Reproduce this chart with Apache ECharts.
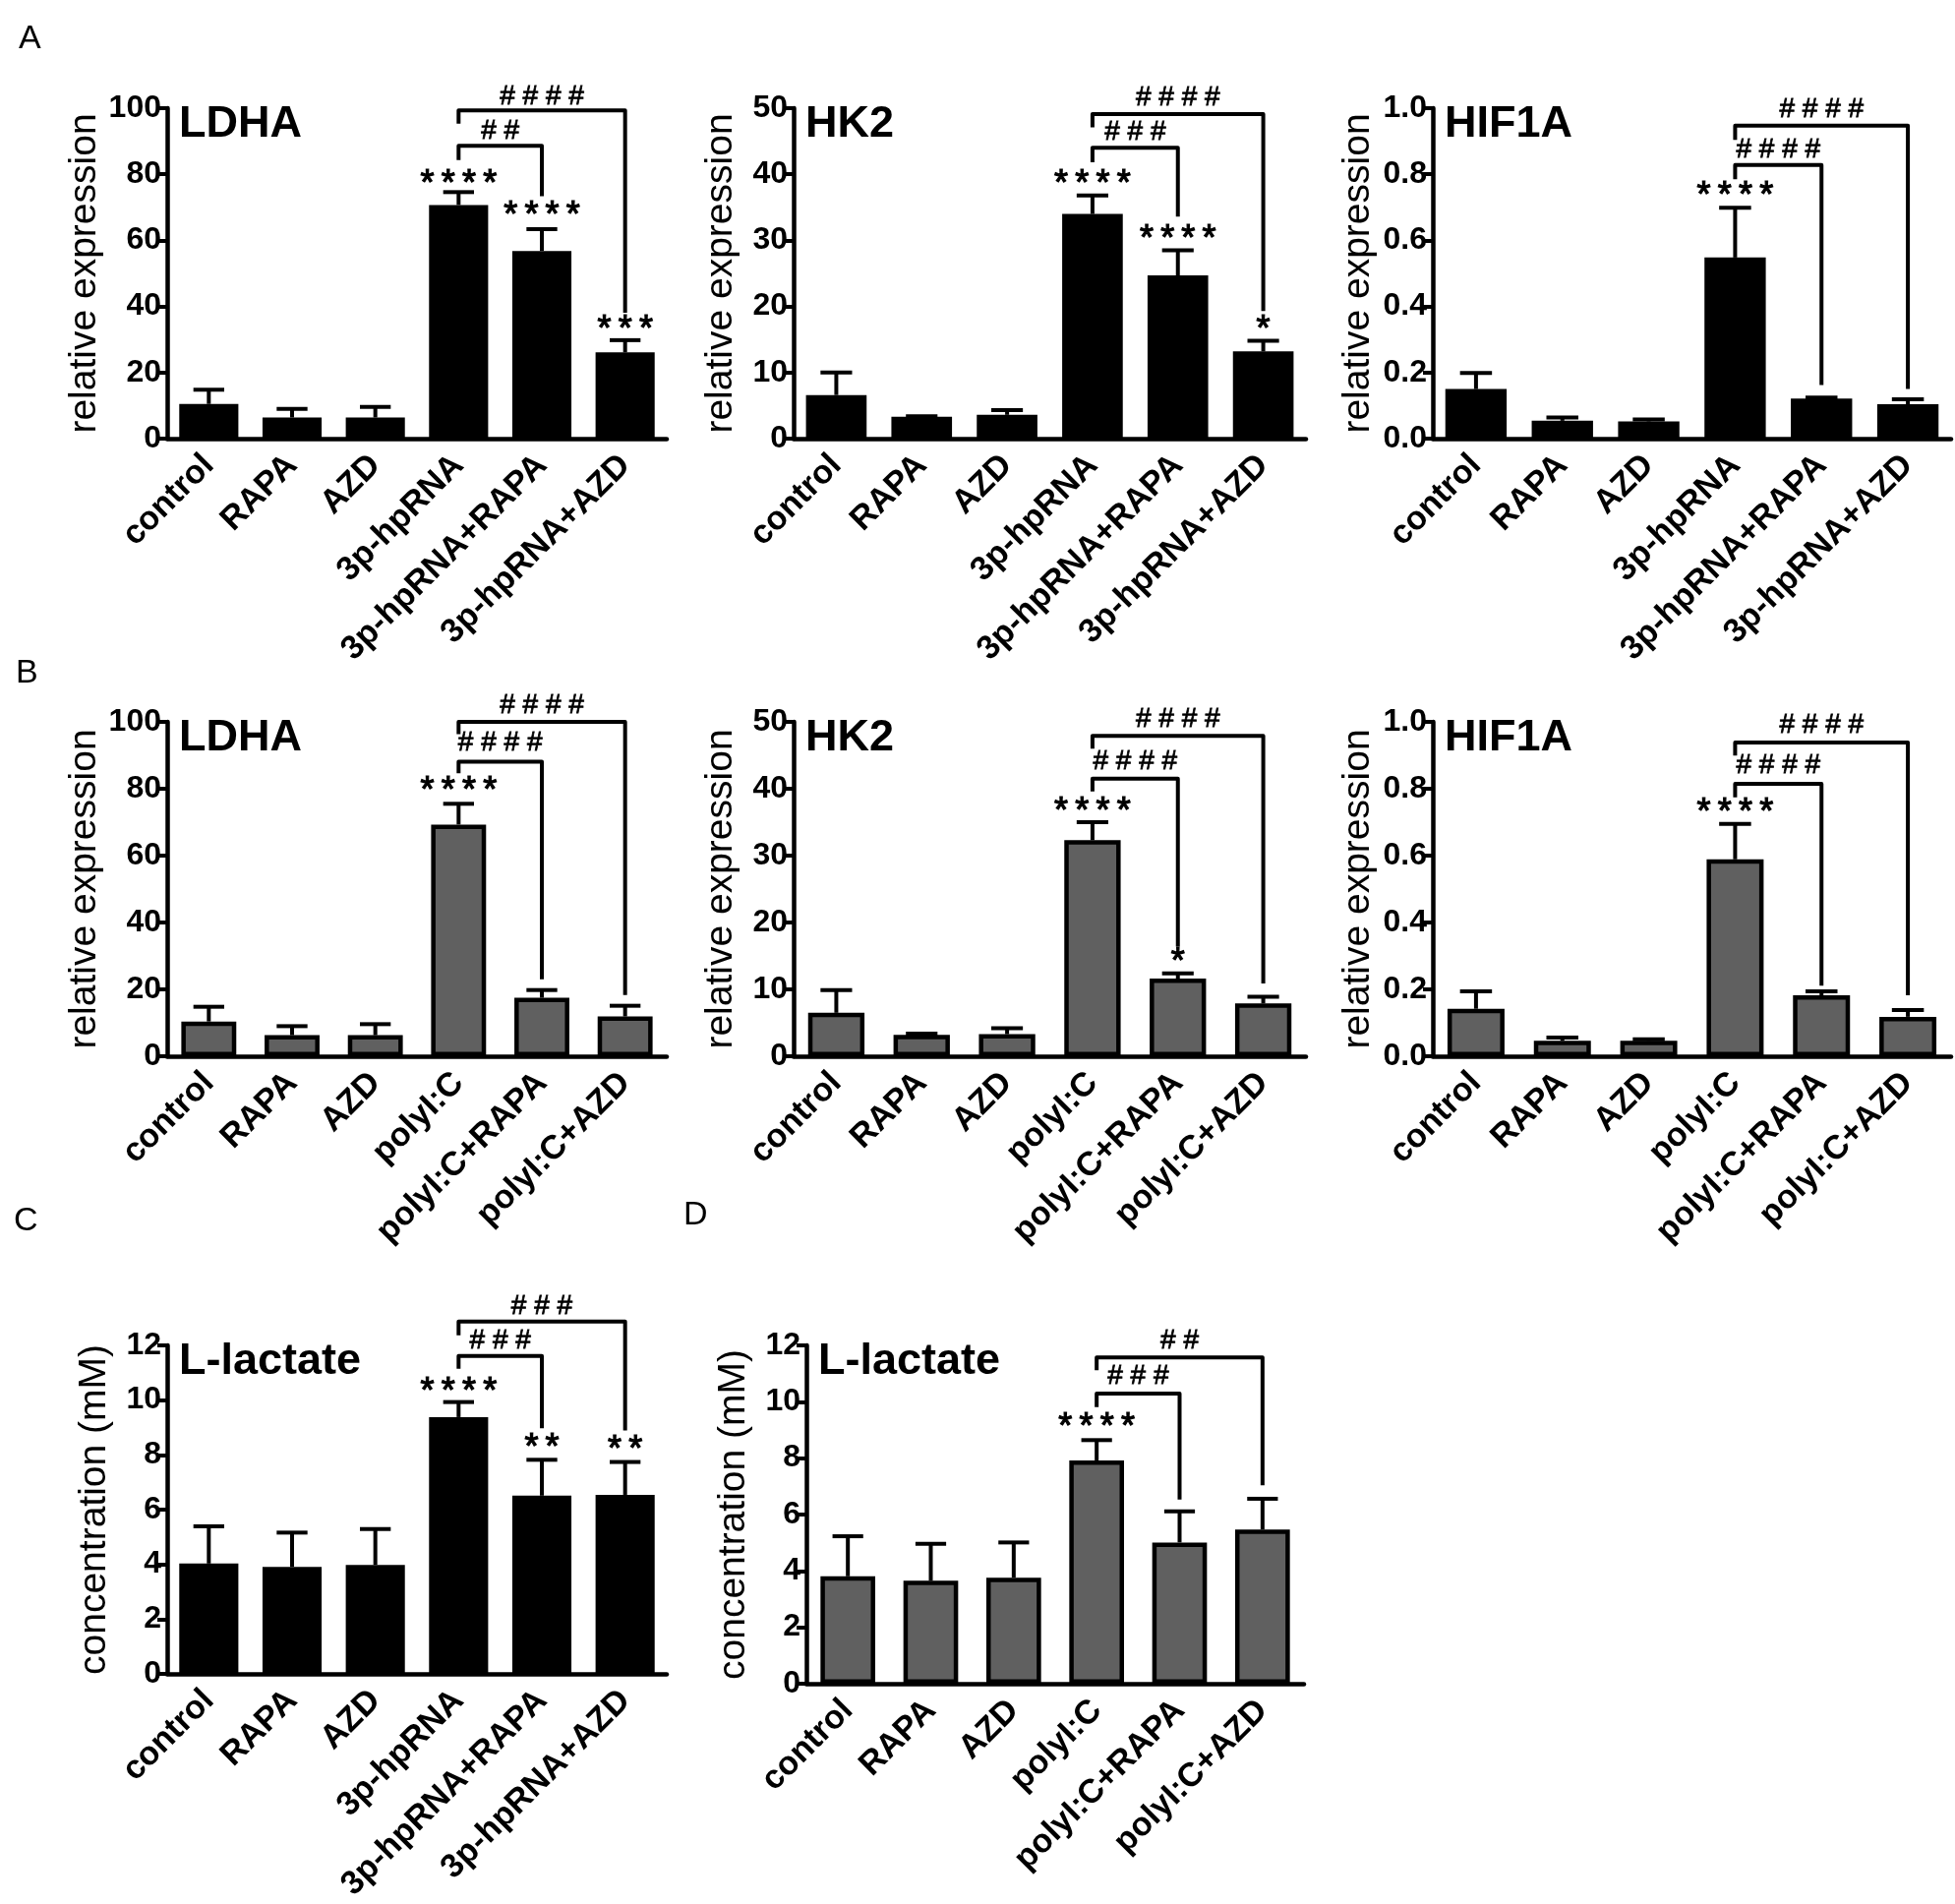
<!DOCTYPE html>
<html><head><meta charset="utf-8">
<script src="https://cdn.jsdelivr.net/npm/echarts@6/dist/echarts.min.js"></script>
<style>html,body{margin:0;padding:0;background:#fff}#c{width:1988px;height:1936px}</style>
</head><body><div id="c"></div>
<script>
// ---------- categories ----------
const catsHp = ['control','RAPA','AZD','3p-hpRNA','3p-hpRNA+RAPA','3p-hpRNA+AZD'];
const catsPoly = ['control','RAPA','AZD','polyI:C','polyI:C+RAPA','polyI:C+AZD'];

// ---------- tick labels ----------
const ticksExpr = [0,20,40,60,80,100];
const ticksHK2 = [0,10,20,30,40,50];
const ticksHIF = [0,0.2,0.4,0.6,0.8,1.0];
const ticksLac = [0,2,4,6,8,10,12];

// ---------- A: 3p-hpRNA ----------
const ldhaA_mean = [10.5, 6.4, 6.4, 70.7, 56.8, 26.1];
const ldhaA_err  = [14.8, 9.0, 9.6, 74.6, 63.4, 29.8];
const ldhaA_sig  = ['', '', '', '****', '****', '***'];
const ldhaA_sigY = [null, null, null, 78.1, 68.3, 33.8];
// bracket: [from, to, barY, leftEndY, rightEndY, labelY]
const ldhaA_br = [[3,5,99.3,95.3,38.1,102.7],[3,4,88.6,84.3,73.4,92.3]];
const ldhaA_brText = ['####','##'];

const hk2A_mean = [6.6, 3.3, 3.6, 34.0, 24.7, 13.2];
const hk2A_err  = [10.0, 3.4, 4.3, 36.8, 28.5, 14.8];
const hk2A_sig  = ['', '', '', '****', '****', '*'];
const hk2A_sigY = [null, null, null, 39.0, 30.7, 17.0];
const hk2A_br = [[3,5,49.1,47.1,19.3,51.2],[3,4,44.0,41.8,33.6,45.9]];
const hk2A_brText = ['####','###'];

const hifA_mean = [0.150, 0.054, 0.052, 0.548, 0.121, 0.104];
const hifA_err  = [0.199, 0.064, 0.058, 0.699, 0.124, 0.119];
const hifA_sig  = ['', '', '', '****', '', ''];
const hifA_sigY = [null, null, null, 0.745, null, null];
const hifA_br = [[3,5,0.947,0.904,0.150,0.988],[3,4,0.828,0.785,0.162,0.865]];
const hifA_brText = ['####','####'];

// ---------- B: polyI:C ----------
const ldhaB_mean = [10.4, 6.3, 6.3, 69.3, 17.5, 11.9];
const ldhaB_err  = [14.8, 9.0, 9.6, 75.5, 19.8, 15.1];
const ldhaB_sig  = ['', '', '', '****', '', ''];
const ldhaB_sigY = [null, null, null, 80.2, null, null];
const ldhaB_br = [[3,5,100.0,96.3,18.3,104.1],[3,4,88.1,84.6,23.0,93.0]];
const ldhaB_brText = ['####','####'];

const hk2B_mean = [6.5, 3.2, 3.3, 32.3, 11.6, 7.9];
const hk2B_err  = [9.9, 3.4, 4.2, 35.0, 12.4, 8.9];
const hk2B_sig  = ['', '', '', '****', '*', ''];
const hk2B_sigY = [null, null, null, 37.1, 14.5, null];
const hk2B_br = [[3,5,47.9,46.0,10.9,50.0],[3,4,41.5,39.6,16.4,43.6]];
const hk2B_brText = ['####','####'];

const hifB_mean = [0.142, 0.046, 0.046, 0.589, 0.182, 0.118];
const hifB_err  = [0.194, 0.056, 0.051, 0.695, 0.194, 0.138];
const hifB_sig  = ['', '', '', '****', '', ''];
const hifB_sigY = [null, null, null, 0.737, null, null];
const hifB_br = [[3,5,0.938,0.899,0.182,0.982],[3,4,0.815,0.774,0.211,0.860]];
const hifB_brText = ['####','####'];

// ---------- C / D: L-lactate ----------
const lacC_mean = [4.03, 3.91, 3.98, 9.38, 6.51, 6.54];
const lacC_err  = [5.39, 5.16, 5.29, 9.93, 7.82, 7.74];
const lacC_sig  = ['', '', '', '****', '**', '**'];
const lacC_sigY = [null, null, null, 10.42, 8.38, 8.28];
const lacC_br = [[3,5,12.87,12.37,8.89,13.33],[3,4,11.61,11.15,8.97,12.06]];
const lacC_brText = ['###','###'];

const lacD_mean = [3.81, 3.65, 3.76, 7.92, 5.01, 5.47];
const lacD_err  = [5.23, 4.96, 5.01, 8.64, 6.11, 6.56];
const lacD_sig  = ['', '', '', '****', '', ''];
const lacD_sigY = [null, null, null, 9.2, null, null];
const lacD_br = [[3,5,11.57,11.12,7.04,12.05],[3,4,10.29,9.81,6.53,10.8]];
const lacD_brText = ['##','###'];

// ---------- layout / styling ----------
const FONT = 'Arial, "Liberation Sans", sans-serif';
const BLACK = '#000', GREY = '#606060';
const yNameExpr = 'relative expression', yNameLac = 'concentration (mM)';

const panels = [
  {g:{left:170,top:110,width:508,height:336}, cats:catsHp, mean:ldhaA_mean, err:ldhaA_err, sig:ldhaA_sig, sigY:ldhaA_sigY, br:ldhaA_br, brT:ldhaA_brText, ticks:ticksExpr, dec:0, fill:BLACK, bw:0, title:'LDHA', name:yNameExpr, gap:64},
  {g:{left:807,top:110,width:521,height:336}, cats:catsHp, mean:hk2A_mean, err:hk2A_err, sig:hk2A_sig, sigY:hk2A_sigY, br:hk2A_br, brT:hk2A_brText, ticks:ticksHK2, dec:0, fill:BLACK, bw:0, title:'HK2', name:yNameExpr, gap:54},
  {g:{left:1457,top:110,width:527,height:336}, cats:catsHp, mean:hifA_mean, err:hifA_err, sig:hifA_sig, sigY:hifA_sigY, br:hifA_br, brT:hifA_brText, ticks:ticksHIF, dec:1, fill:BLACK, bw:0, title:'HIF1A', name:yNameExpr, gap:56},
  {g:{left:170,top:734,width:508,height:340}, cats:catsPoly, mean:ldhaB_mean, err:ldhaB_err, sig:ldhaB_sig, sigY:ldhaB_sigY, br:ldhaB_br, brT:ldhaB_brText, ticks:ticksExpr, dec:0, fill:GREY, bw:4.5, title:'LDHA', name:yNameExpr, gap:64},
  {g:{left:807,top:734,width:521,height:340}, cats:catsPoly, mean:hk2B_mean, err:hk2B_err, sig:hk2B_sig, sigY:hk2B_sigY, br:hk2B_br, brT:hk2B_brText, ticks:ticksHK2, dec:0, fill:GREY, bw:4.5, title:'HK2', name:yNameExpr, gap:54},
  {g:{left:1457,top:734,width:527,height:340}, cats:catsPoly, mean:hifB_mean, err:hifB_err, sig:hifB_sig, sigY:hifB_sigY, br:hifB_br, brT:hifB_brText, ticks:ticksHIF, dec:1, fill:GREY, bw:4.5, title:'HIF1A', name:yNameExpr, gap:56},
  {g:{left:170,top:1368,width:508,height:344}, cats:catsHp, mean:lacC_mean, err:lacC_err, sig:lacC_sig, sigY:lacC_sigY, br:lacC_br, brT:lacC_brText, ticks:ticksLac, dec:0, fill:BLACK, bw:0, title:'L-lactate', name:yNameLac, gap:54},
  {g:{left:820,top:1368,width:506,height:344}, cats:catsPoly, mean:lacD_mean, err:lacD_err, sig:lacD_sig, sigY:lacD_sigY, br:lacD_br, brT:lacD_brText, ticks:ticksLac, dec:0, fill:GREY, bw:4.5, title:'L-lactate', name:yNameLac, gap:54}
];

const spaced = s => s.split('').join('\u2009');
const spacedH = s => s.split('').join(' ');
const grid = [], xAxis = [], yAxis = [], series = [], graphic = [];

panels.forEach((p, i) => {
  grid.push(Object.assign({containLabel:false}, p.g));
  xAxis.push({
    gridIndex:i, type:'category', data:p.cats,
    axisLine:{lineStyle:{color:BLACK,width:4.5}},
    axisTick:{alignWithLabel:true,length:10,lineStyle:{color:BLACK,width:4}},
    axisLabel:{rotate:45, interval:0, color:BLACK, fontFamily:FONT, fontWeight:'bold', fontSize:34, margin:22},
    splitLine:{show:false}
  });
  yAxis.push({
    gridIndex:i, type:'value', min:p.ticks[0], max:p.ticks[p.ticks.length-1],
    interval:p.ticks[1]-p.ticks[0],
    axisLine:{show:true,lineStyle:{color:BLACK,width:4.5}},
    axisTick:{show:true,length:10,lineStyle:{color:BLACK,width:4}},
    axisLabel:{color:BLACK, fontFamily:FONT, fontWeight:'bold', fontSize:32, margin:6,
      formatter: v => Number(v).toFixed(p.dec)},
    splitLine:{show:false},
    name:p.name, nameLocation:'middle', nameGap:p.gap,
    nameTextStyle:{color:BLACK, fontFamily:FONT, fontSize:39}
  });
  // bars
  series.push({
    type:'bar', xAxisIndex:i, yAxisIndex:i, data:p.mean, barWidth: p.bw ? '66%' : '71%',
    itemStyle:{color:p.fill, borderColor:BLACK, borderWidth:p.bw}, silent:true, z:2, animation:false
  });
  // error bars (upper)
  series.push({
    type:'custom', xAxisIndex:i, yAxisIndex:i, z:3, silent:true, animation:false, clip:false,
    data:p.mean.map((m,j)=>[j,m,p.err[j]]),
    renderItem:(params, api) => {
      const a = api.coord([api.value(0), api.value(1)]);
      const b = api.coord([api.value(0), api.value(2)]);
      const band = api.size([1,0])[0];
      const half = band*0.185;
      return {type:'group', children:[
        {type:'line', shape:{x1:a[0],y1:a[1],x2:b[0],y2:b[1]}, style:{stroke:BLACK,lineWidth:4}},
        {type:'line', shape:{x1:b[0]-half,y1:b[1],x2:b[0]+half,y2:b[1]}, style:{stroke:BLACK,lineWidth:4}}
      ]};
    }
  });
  // significance stars
  const sigItems = [];
  p.sig.forEach((s,j)=>{ if (s) sigItems.push({j:j, y:p.sigY[j], t:s}); });
  series.push({
    type:'custom', xAxisIndex:i, yAxisIndex:i, z:4, silent:true, animation:false, clip:false,
    data:sigItems.map(o=>[o.j,o.y]),
    renderItem:(params, api) => {
      const c = api.coord([api.value(0), api.value(1)]);
      return {type:'text', x:c[0], y:c[1]+4, style:{text:spaced(sigItems[params.dataIndex].t), fill:BLACK,
        font:'36px '+FONT, align:'center', verticalAlign:'middle', stroke:BLACK, lineWidth:1.2}};
    }
  });
  // brackets
  series.push({
    type:'custom', xAxisIndex:i, yAxisIndex:i, z:4, silent:true, animation:false, clip:false,
    data:p.br.map(b=>b.slice()),
    renderItem:(params, api) => {
      const a = api.coord([api.value(0), api.value(3)]);
      const b = api.coord([api.value(0), api.value(2)]);
      const c = api.coord([api.value(1), api.value(2)]);
      const d = api.coord([api.value(1), api.value(4)]);
      const ty = api.coord([api.value(0), api.value(5)])[1];
      return {type:'group', children:[
        {type:'polyline', shape:{points:[a,b,c,d]}, style:{stroke:BLACK,lineWidth:4,fill:null,lineJoin:'round'}},
        {type:'text', x:(b[0]+c[0])/2, y:ty-3, style:{text:spacedH(p.brT[params.dataIndex]), fill:BLACK,
          font:'28px '+FONT, align:'center', verticalAlign:'middle', stroke:BLACK, lineWidth:0.8}}
      ]};
    }
  });
  // panel title
  graphic.push({type:'text', x:p.g.left+12, y:p.g.top-6, silent:true,
    style:{text:p.title, fill:BLACK, font:'bold 45px '+FONT, align:'left', verticalAlign:'top'}});
});

// panel letters
[['A',19,23],['B',16,668],['C',14,1225],['D',695,1219]].forEach(l=>{
  graphic.push({type:'text', x:l[1], y:l[2], silent:true,
    style:{text:l[0], fill:BLACK, font:'34px '+FONT, align:'left', verticalAlign:'top'}});
});

const chart = echarts.init(document.getElementById('c'), null, {renderer:'canvas'});
chart.setOption({backgroundColor:'#fff', animation:false, grid, xAxis, yAxis, series, graphic});
</script></body></html>
